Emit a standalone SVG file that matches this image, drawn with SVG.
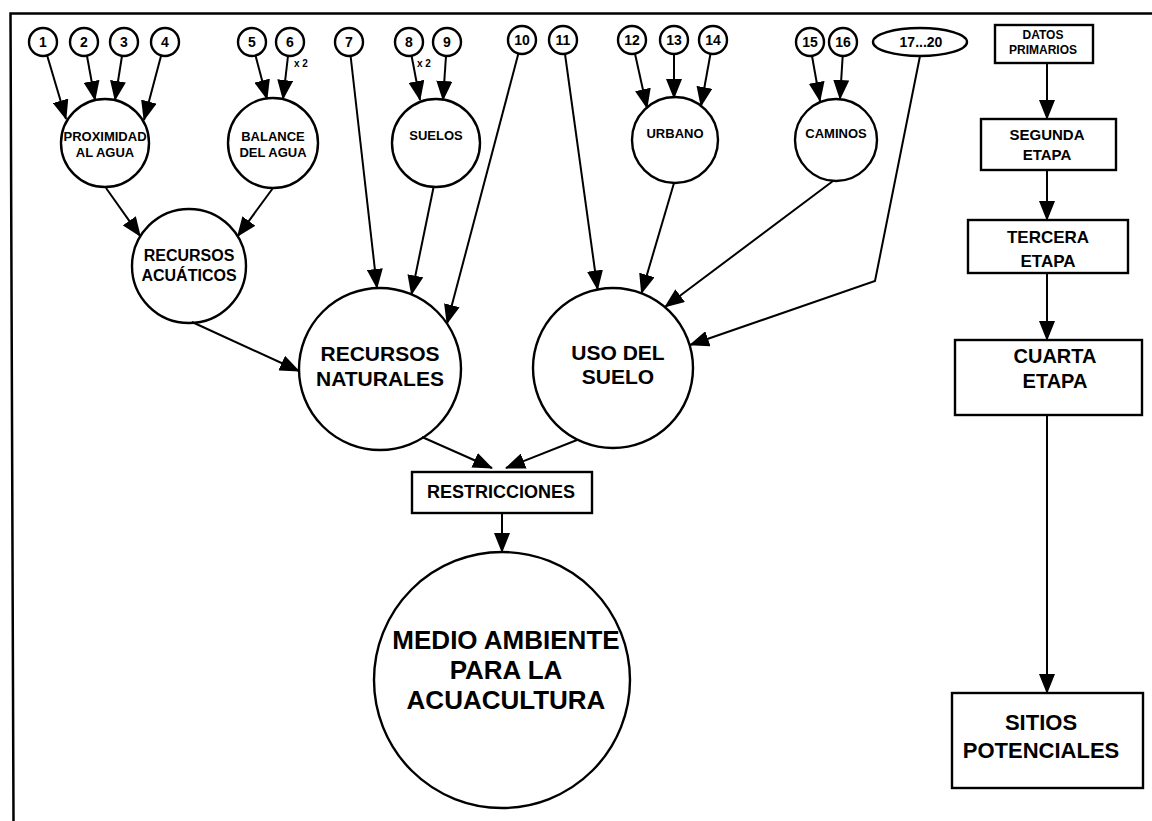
<svg xmlns="http://www.w3.org/2000/svg" width="1152" height="821" viewBox="0 0 1152 821">
  <defs>
    <marker id="arrow" viewBox="0 0 20 16" refX="19" refY="8" markerWidth="20" markerHeight="16" markerUnits="userSpaceOnUse" orient="auto">
      <path d="M0,0 L20,8 L0,16 Z" fill="#000"/>
    </marker>
    <style>
      .frame { fill: none; stroke: #000; stroke-width: 2.5; }
      .node circle, .node ellipse, .node rect { fill: #fff; stroke: #000; stroke-width: 2.4; }
      text { font-family: "Liberation Sans", Arial, sans-serif; font-weight: bold; fill: #000; text-anchor: middle; }
      .num { font-size: 14px; }
      .mid { font-size: 13px; }
      .big { font-size: 21px; }
      .note { font-size: 10px; text-anchor: start; }
      .edge { fill: none; stroke: #000; stroke-width: 2; marker-end: url(#arrow); }
    </style>
  </defs>

  <rect width="1152" height="821" fill="#fff"/>
  <!-- page frame: top and left rules -->
  <path class="frame" d="M1152,13.5 L10.5,13.5 L13.5,821"/>

  <!-- numbered input layers -->
  <g id="n1" class="node"><circle cx="43" cy="42" r="14"/><text class="num" x="43" y="47">1</text></g>
  <g id="n2" class="node"><circle cx="84" cy="42" r="14"/><text class="num" x="84" y="47">2</text></g>
  <g id="n3" class="node"><circle cx="124" cy="42" r="14"/><text class="num" x="124" y="47">3</text></g>
  <g id="n4" class="node"><circle cx="165" cy="42" r="14"/><text class="num" x="165" y="47">4</text></g>
  <g id="n5" class="node"><circle cx="252" cy="42" r="14"/><text class="num" x="252" y="47">5</text></g>
  <g id="n6" class="node"><circle cx="290" cy="42" r="14"/><text class="num" x="290" y="47">6</text><text class="note" x="294" y="67">x 2</text></g>
  <g id="n7" class="node"><circle cx="349" cy="42" r="14"/><text class="num" x="349" y="47">7</text></g>
  <g id="n8" class="node"><circle cx="409" cy="42" r="14"/><text class="num" x="409" y="47">8</text><text class="note" x="417" y="67">x 2</text></g>
  <g id="n9" class="node"><circle cx="447" cy="42" r="14"/><text class="num" x="447" y="47">9</text></g>
  <g id="n10" class="node"><circle cx="522" cy="40" r="14"/><text class="num" x="522" y="45">10</text></g>
  <g id="n11" class="node"><circle cx="563" cy="40" r="14"/><text class="num" x="563" y="45">11</text></g>
  <g id="n12" class="node"><circle cx="632" cy="40" r="14"/><text class="num" x="632" y="45">12</text></g>
  <g id="n13" class="node"><circle cx="674" cy="40" r="14"/><text class="num" x="674" y="45">13</text></g>
  <g id="n14" class="node"><circle cx="713" cy="40" r="14"/><text class="num" x="713" y="45">14</text></g>
  <g id="n15" class="node"><circle cx="810" cy="42" r="14"/><text class="num" x="810" y="47">15</text></g>
  <g id="n16" class="node"><circle cx="843" cy="42" r="14"/><text class="num" x="843" y="47">16</text></g>
  <g id="n17-20" class="node"><ellipse cx="920" cy="42" rx="47" ry="14"/><text class="num" x="921" y="47">17...20</text></g>

  <!-- intermediate layers -->
  <g id="proximidad" class="node"><circle cx="105" cy="143" r="44"/><text class="mid" x="105" y="141">PROXIMIDAD</text><text class="mid" x="105" y="157">AL AGUA</text></g>
  <g id="balance" class="node"><circle cx="273" cy="143" r="45"/><text class="mid" x="273" y="141">BALANCE</text><text class="mid" x="273" y="157">DEL AGUA</text></g>
  <g id="suelos" class="node"><circle cx="436" cy="143" r="44"/><text class="mid" x="436" y="140">SUELOS</text></g>
  <g id="urbano" class="node"><circle cx="675" cy="140" r="43"/><text class="mid" x="675" y="138">URBANO</text></g>
  <g id="caminos" class="node"><circle cx="836" cy="140" r="41"/><text class="mid" x="836" y="138">CAMINOS</text></g>
  <g id="acuaticos" class="node"><circle cx="189" cy="266" r="57"/><text x="189" y="261" font-size="16">RECURSOS</text><text x="189" y="281" font-size="16">ACUÁTICOS</text></g>

  <!-- aggregated layers -->
  <g id="naturales" class="node"><circle cx="380" cy="369" r="81"/><text class="big" x="380" y="361">RECURSOS</text><text class="big" x="380" y="386">NATURALES</text></g>
  <g id="uso-suelo" class="node"><circle cx="613" cy="368" r="80"/><text class="big" x="618" y="360">USO DEL</text><text class="big" x="618" y="384">SUELO</text></g>
  <g id="restricciones" class="node"><rect x="412" y="472" width="180" height="41"/><text x="501" y="498" font-size="18">RESTRICCIONES</text></g>
  <g id="medio-ambiente" class="node"><circle cx="502" cy="680" r="128"/><text x="506" y="649" font-size="26">MEDIO AMBIENTE</text><text x="506" y="679" font-size="26">PARA LA</text><text x="506" y="709" font-size="26">ACUACULTURA</text></g>

  <!-- stage sequence -->
  <g id="datos" class="node"><rect x="995" y="25" width="98" height="38"/><text x="1043" y="39" font-size="12">DATOS</text><text x="1043" y="54" font-size="12">PRIMARIOS</text></g>
  <g id="segunda" class="node"><rect x="981" y="119" width="135" height="51"/><text x="1047" y="140" font-size="15">SEGUNDA</text><text x="1047" y="160" font-size="15">ETAPA</text></g>
  <g id="tercera" class="node"><rect x="968" y="220" width="160" height="53"/><text x="1048" y="243" font-size="17">TERCERA</text><text x="1048" y="267" font-size="17">ETAPA</text></g>
  <g id="cuarta" class="node"><rect x="955" y="340" width="187" height="75"/><text x="1055" y="363" font-size="20">CUARTA</text><text x="1055" y="388" font-size="20">ETAPA</text></g>
  <g id="sitios" class="node"><rect x="952" y="693" width="191" height="95"/><text x="1041" y="730" font-size="22">SITIOS</text><text x="1041" y="758" font-size="22">POTENCIALES</text></g>

  <!-- connectors -->
  <g id="connectors">
    <line class="edge" x1="47" y1="55" x2="66" y2="119"/>
    <line class="edge" x1="87" y1="56" x2="95" y2="100"/>
    <line class="edge" x1="122" y1="56" x2="115" y2="100"/>
    <line class="edge" x1="161" y1="56" x2="144" y2="120"/>
    <line class="edge" x1="255.5" y1="55.5" x2="267" y2="99"/>
    <line class="edge" x1="288" y1="56" x2="283" y2="99"/>
    <line class="edge" x1="350.6" y1="56" x2="377" y2="288"/>
    <line class="edge" x1="411.6" y1="56" x2="420" y2="100"/>
    <line class="edge" x1="446" y1="56" x2="443" y2="100"/>
    <line class="edge" x1="518.4" y1="53.5" x2="447" y2="323.6"/>
    <line class="edge" x1="565" y1="54" x2="597.6" y2="289.5"/>
    <line class="edge" x1="635" y1="53.7" x2="647" y2="108"/>
    <line class="edge" x1="674" y1="54" x2="674" y2="98"/>
    <line class="edge" x1="710.5" y1="53.8" x2="701" y2="106"/>
    <line class="edge" x1="812" y1="56" x2="820" y2="101"/>
    <line class="edge" x1="842.7" y1="56" x2="840" y2="99"/>
    <line class="edge" x1="106" y1="188" x2="140.3" y2="236.3"/>
    <line class="edge" x1="273" y1="188" x2="237.6" y2="236.3"/>
    <line class="edge" x1="433.6" y1="187" x2="411.5" y2="294.4"/>
    <line class="edge" x1="192" y1="322" x2="299" y2="371"/>
    <line class="edge" x1="674" y1="183" x2="641.5" y2="293.2"/>
    <line class="edge" x1="833" y1="181" x2="665" y2="307"/>
    <path class="edge" d="M920,56 L875,281 L690,345"/>
    <line class="edge" x1="422" y1="437" x2="492" y2="468"/>
    <line class="edge" x1="577" y1="440" x2="506" y2="468"/>
    <line class="edge" x1="502" y1="513" x2="502" y2="552"/>
    <line class="edge" x1="1047" y1="63" x2="1047" y2="119"/>
    <line class="edge" x1="1047" y1="170" x2="1047" y2="220"/>
    <line class="edge" x1="1047" y1="273" x2="1047" y2="340"/>
    <line class="edge" x1="1047" y1="415" x2="1047" y2="693"/>
  </g>
</svg>
